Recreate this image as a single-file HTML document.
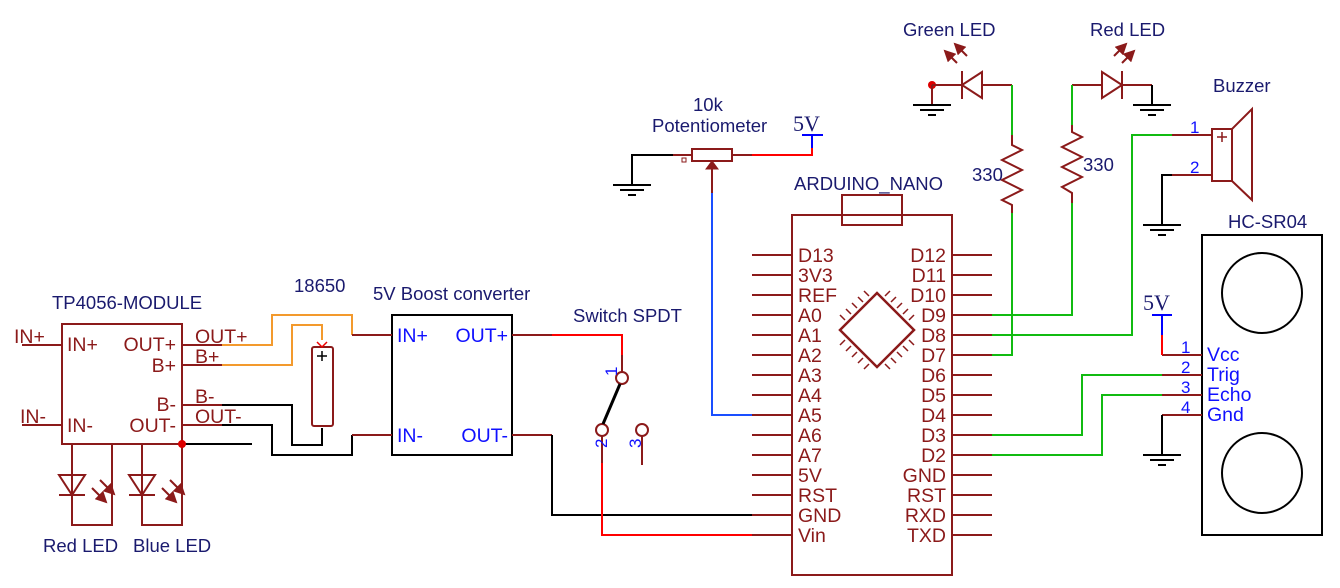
<!DOCTYPE html>
<html><head><meta charset="utf-8"><style>
html,body{margin:0;padding:0;background:#fff;}
svg{display:block;}
text{font-family:"Liberation Sans",sans-serif;}
.l{font-size:18.5px;fill:#1a1a6e;}
.p{font-size:19.5px;fill:#8b1a1a;}
.b{font-size:19.5px;fill:#1010ff;}
.n{font-size:17px;fill:#1010ff;}
</style></head><body>
<svg width="1340" height="588" viewBox="0 0 1340 588" xmlns="http://www.w3.org/2000/svg">
<defs>
<g id="gnd" stroke="#000" stroke-width="2"><line x1="-19" y1="0" x2="19" y2="0"/><line x1="-12" y1="5" x2="12" y2="5"/><line x1="-4" y1="10" x2="4" y2="10"/></g>
<marker id="ah" markerWidth="6" markerHeight="6" refX="5" refY="3" orient="auto"><path d="M0,0 L6,3 L0,6 z" fill="#8b1a1a"/></marker>
</defs>
<g fill="none" stroke-width="2">
<rect x="62" y="324" width="120" height="120" stroke="#8b1a1a"/>
<g stroke="#8b1a1a">
<line x1="22" y1="345" x2="62" y2="345"/><line x1="22" y1="425" x2="62" y2="425"/>
<line x1="182" y1="345" x2="222" y2="345"/><line x1="182" y1="365" x2="222" y2="365"/>
<line x1="182" y1="405" x2="222" y2="405"/><line x1="182" y1="425" x2="222" y2="425"/>
<polyline points="72,444 72,525 112,525 112,444"/>
<polyline points="142,444 142,525 182,525 182,444"/>
<path d="M59,475 L85,475 L72,495 Z M59,495 L85,495 M129,475 L155,475 L142,495 Z M129,495 L155,495"/>
<line x1="92" y1="488" x2="106" y2="502" marker-end="url(#ah)"/><line x1="100" y1="480" x2="114" y2="494" marker-end="url(#ah)"/>
<line x1="162" y1="488" x2="176" y2="502" marker-end="url(#ah)"/><line x1="170" y1="480" x2="184" y2="494" marker-end="url(#ah)"/>
</g>
<polyline points="182,444 252,444" stroke="#000"/>
<polyline points="222,345 272,345 272,315 352,315 352,335" stroke="#f39a2d"/>
<polyline points="222,365 292,365 292,325 322,325 322,340" stroke="#f39a2d"/>
<polyline points="222,405 292,405 292,445 322,445 322,428" stroke="#000"/>
<polyline points="222,425 272,425 272,455 352,455 352,435" stroke="#000"/>
<rect x="312" y="347" width="21" height="79" rx="2" stroke="#8b1a1a"/>
<path d="M317,342 L322,347 L327,342" stroke="#e00" stroke-width="1.5"/>
<path d="M317,356 h10 M322,351 v10" stroke="#000" stroke-width="1.5"/>
<rect x="392" y="315" width="120" height="140" stroke="#000"/>
<g stroke="#8b1a1a"><line x1="352" y1="335" x2="392" y2="335"/><line x1="352" y1="435" x2="392" y2="435"/>
<line x1="512" y1="335" x2="552" y2="335"/><line x1="512" y1="435" x2="552" y2="435"/></g>
<polyline points="552,335 622,335 622,355" stroke="#f00"/>
<line x1="622" y1="355" x2="622" y2="372" stroke="#8b1a1a"/>
<polyline points="552,435 552,515 752,515" stroke="#000"/>
<circle cx="622" cy="378" r="6" stroke="#8b1a1a"/>
<circle cx="602" cy="430" r="6" stroke="#8b1a1a"/>
<circle cx="642" cy="430" r="6" stroke="#8b1a1a"/>
<line x1="620" y1="384" x2="603" y2="424" stroke="#000" stroke-width="3"/>
<line x1="602" y1="436" x2="602" y2="463" stroke="#8b1a1a"/>
<line x1="642" y1="436" x2="642" y2="465" stroke="#8b1a1a"/>
<polyline points="602,463 602,535 752,535" stroke="#f00"/>
<polyline points="632,185 632,155 673,155" stroke="#000"/>
<line x1="673" y1="155" x2="692" y2="155" stroke="#8b1a1a"/>
<rect x="692" y="149" width="40" height="12" stroke="#8b1a1a"/>
<line x1="732" y1="155" x2="752" y2="155" stroke="#8b1a1a"/>
<polyline points="752,155 812,155 812,148" stroke="#f00"/>
<line x1="812" y1="148" x2="812" y2="135" stroke="#00f"/><line x1="802" y1="135" x2="823" y2="135" stroke="#00f"/>
<line x1="712" y1="193" x2="712" y2="168" stroke="#8b1a1a"/>
<path d="M706,169 L712,161 L718,169 Z" fill="#8b1a1a" stroke="#8b1a1a" stroke-width="1"/>
<polyline points="712,193 712,415 752,415" stroke="#1a4fff"/>
<rect x="682" y="158" width="4" height="4" stroke="#8b1a1a" stroke-width="1"/>
<g stroke="#8b1a1a">
<rect x="792" y="215" width="160" height="360"/>
<rect x="842" y="195" width="60" height="30"/>
<path d="M752,255h40M752,275h40M752,295h40M752,315h40M752,335h40M752,355h40M752,375h40M752,395h40M752,415h40M752,435h40M752,455h40M752,475h40M752,495h40M752,515h40M752,535h40"/>
<path d="M952,255h40M952,275h40M952,295h40M952,315h40M952,335h40M952,355h40M952,375h40M952,395h40M952,415h40M952,435h40M952,455h40M952,475h40M952,495h40M952,515h40M952,535h40"/>
<path d="M840,330 L877,293 L914,330 L877,367 Z" stroke-width="2.5"/>
<path d="M845,320l-5,-5M851,314l-5,-5M857,308l-5,-5M863,302l-5,-5M869,296l-5,-5M885,296l5,-5M891,302l5,-5M897,308l5,-5M903,314l5,-5M909,320l5,-5M845,340l-5,5M851,346l-5,5M857,352l-5,5M863,358l-5,5M869,364l-5,5M885,364l5,5M891,358l5,5M897,352l5,5M903,346l5,5M909,340l5,5" stroke-width="1.5"/>
</g>
<circle cx="932" cy="85" r="4" fill="#d00" stroke="none"/>
<g stroke="#8b1a1a">
<line x1="932" y1="85" x2="962" y2="85"/><line x1="932" y1="85" x2="932" y2="105"/>
<path d="M962,85 L982,72 L982,98 Z M962,71 V99"/>
<line x1="982" y1="85" x2="1012" y2="85"/>
<line x1="957" y1="63" x2="945" y2="51" marker-end="url(#ah)"/><line x1="967" y1="56" x2="955" y2="44" marker-end="url(#ah)"/>
<polyline points="1012,135 1012,145 1022,150 1002,160 1022,170 1002,180 1022,190 1002,200 1012,205 1012,213"/>
</g>
<polyline points="1012,85 1012,135" stroke="#1b1"/>
<polyline points="1012,213 1012,355 992,355" stroke="#1b1"/>
<g stroke="#8b1a1a">
<line x1="1072" y1="85" x2="1102" y2="85"/>
<path d="M1122,85 L1102,72 L1102,98 Z M1122,71 V99"/>
<line x1="1122" y1="85" x2="1152" y2="85"/>
<line x1="1114" y1="56" x2="1126" y2="44" marker-end="url(#ah)"/><line x1="1122" y1="63" x2="1134" y2="51" marker-end="url(#ah)"/>
<polyline points="1072,125 1072,132 1082,137 1062,147 1082,157 1062,167 1082,177 1062,187 1072,193 1072,203"/>
</g>
<line x1="1152" y1="85" x2="1152" y2="105" stroke="#000"/>
<polyline points="1072,85 1072,125" stroke="#1b1"/>
<polyline points="1072,203 1072,315 992,315" stroke="#1b1"/>
<polyline points="992,335 1132,335 1132,135 1172,135" stroke="#1b1"/>
<g stroke="#8b1a1a"><line x1="1172" y1="135" x2="1212" y2="135"/><line x1="1172" y1="175" x2="1212" y2="175"/>
<rect x="1212" y="129" width="20" height="52"/><path d="M1232,129 L1252,109 L1252,200 L1232,181"/>
<path d="M1217,137h10M1222,132v10" stroke-width="1.5"/></g>
<polyline points="1172,175 1162,175 1162,225" stroke="#000"/>
<rect x="1202" y="235" width="120" height="300" stroke="#000"/>
<circle cx="1262" cy="293" r="40" stroke="#000"/>
<circle cx="1262" cy="473" r="40" stroke="#000"/>
<g stroke="#8b1a1a"><line x1="1162" y1="355" x2="1202" y2="355"/><line x1="1162" y1="375" x2="1202" y2="375"/><line x1="1162" y1="395" x2="1202" y2="395"/><line x1="1162" y1="415" x2="1202" y2="415"/></g>
<polyline points="1162,355 1162,335" stroke="#f00"/>
<line x1="1162" y1="335" x2="1162" y2="315" stroke="#00f"/><line x1="1152" y1="315" x2="1172" y2="315" stroke="#00f"/>
<polyline points="1162,375 1082,375 1082,435 992,435" stroke="#1b1"/>
<polyline points="1162,395 1102,395 1102,455 992,455" stroke="#1b1"/>
<polyline points="1162,415 1162,455" stroke="#000"/>
</g>
<circle cx="182" cy="444" r="4" fill="#d00"/>
<use href="#gnd" x="632" y="185"/>
<use href="#gnd" x="932" y="105"/>
<use href="#gnd" x="1152" y="105"/>
<use href="#gnd" x="1162" y="225"/>
<use href="#gnd" x="1162" y="455"/>
<text class="l" x="52" y="309">TP4056-MODULE</text>
<text class="l" x="294" y="292">18650</text>
<text class="l" x="373" y="300">5V Boost converter</text>
<text class="l" x="573" y="322">Switch SPDT</text>
<text class="l" x="43" y="552">Red LED</text>
<text class="l" x="133" y="552">Blue LED</text>
<text class="l" x="693" y="111">10k</text>
<text class="l" x="652" y="132">Potentiometer</text>
<text class="l" x="794" y="190">ARDUINO_NANO</text>
<text class="l" x="903" y="36">Green LED</text>
<text class="l" x="1090" y="36">Red LED</text>
<text class="l" x="1213" y="92">Buzzer</text>
<text class="l" x="1228" y="228">HC-SR04</text>
<text class="l" x="972" y="181">330</text>
<text class="l" x="1083" y="171">330</text>
<text x="793" y="131" style="font-family:'Liberation Serif',serif;font-size:22px;fill:#1a1a6e">5V</text>
<text x="1143" y="310" style="font-family:'Liberation Serif',serif;font-size:22px;fill:#1a1a6e">5V</text>
<g class="p">
<text x="14" y="343">IN+</text><text x="20" y="423">IN-</text>
<text x="67" y="351">IN+</text><text x="67" y="432">IN-</text>
<text x="176" y="351" text-anchor="end">OUT+</text><text x="176" y="372" text-anchor="end">B+</text>
<text x="176" y="411" text-anchor="end">B-</text><text x="176" y="432" text-anchor="end">OUT-</text>
<text x="195" y="343">OUT+</text><text x="195" y="363">B+</text><text x="195" y="403">B-</text><text x="195" y="423">OUT-</text>
</g>
<g class="b">
<text x="397" y="342">IN+</text><text x="397" y="442">IN-</text>
<text x="508" y="342" text-anchor="end">OUT+</text><text x="508" y="442" text-anchor="end">OUT-</text>
<text x="1207" y="361">Vcc</text><text x="1207" y="381">Trig</text><text x="1207" y="401">Echo</text><text x="1207" y="421">Gnd</text>
</g>
<g class="n">
<text x="1190" y="133">1</text><text x="1190" y="173">2</text>
<text x="1181" y="353">1</text><text x="1181" y="373">2</text><text x="1181" y="393">3</text><text x="1181" y="413">4</text>
<text transform="translate(617,376) rotate(-90)">1</text>
<text transform="translate(607,448) rotate(-90)">2</text>
<text transform="translate(641,448) rotate(-90)">3</text>
</g>
<g class="p">
<text x="798" y="262">D13</text><text x="798" y="282">3V3</text><text x="798" y="302">REF</text><text x="798" y="322">A0</text><text x="798" y="342">A1</text><text x="798" y="362">A2</text><text x="798" y="382">A3</text><text x="798" y="402">A4</text><text x="798" y="422">A5</text><text x="798" y="442">A6</text><text x="798" y="462">A7</text><text x="798" y="482">5V</text><text x="798" y="502">RST</text><text x="798" y="522">GND</text><text x="798" y="542">Vin</text>
</g>
<g class="p" text-anchor="end">
<text x="946" y="262">D12</text><text x="946" y="282">D11</text><text x="946" y="302">D10</text><text x="946" y="322">D9</text><text x="946" y="342">D8</text><text x="946" y="362">D7</text><text x="946" y="382">D6</text><text x="946" y="402">D5</text><text x="946" y="422">D4</text><text x="946" y="442">D3</text><text x="946" y="462">D2</text><text x="946" y="482">GND</text><text x="946" y="502">RST</text><text x="946" y="522">RXD</text><text x="946" y="542">TXD</text>
</g>
</svg>
</body></html>
